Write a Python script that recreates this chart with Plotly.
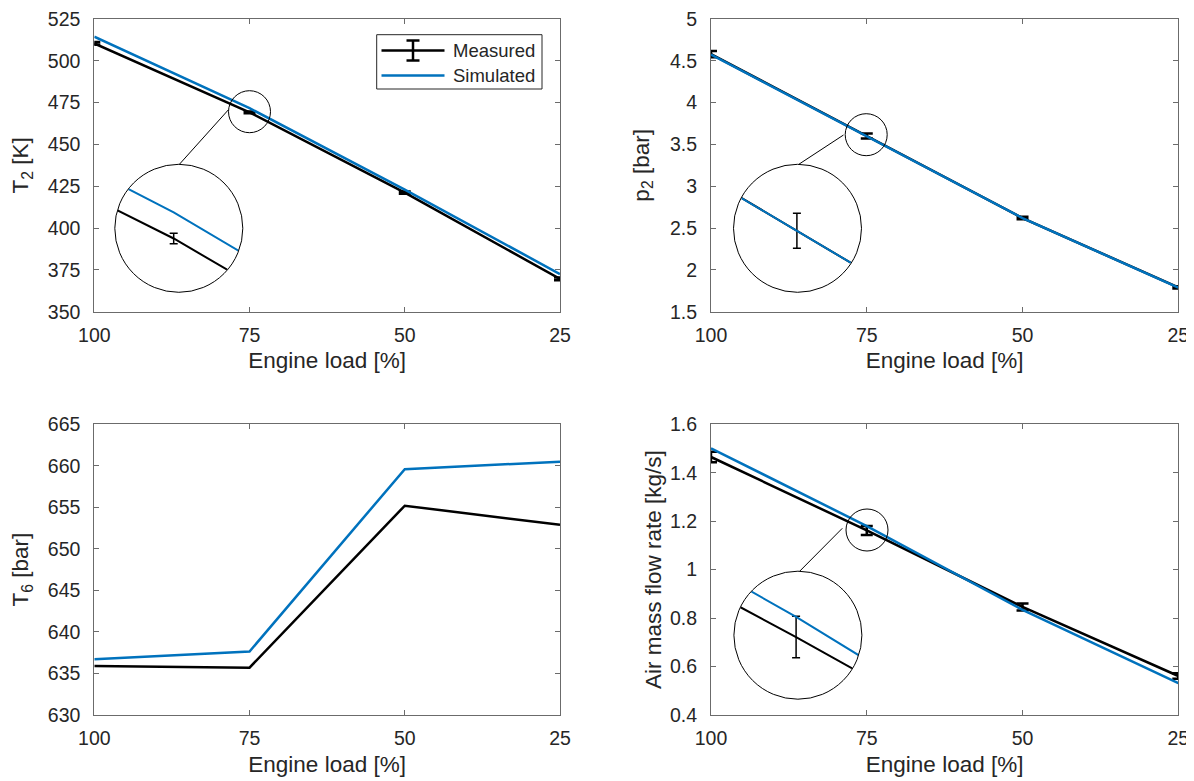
import plotly.graph_objects as go

W, H = 1194, 781          # browser window
OFF = 8                   # default page body margin
FW, FH = W - OFF, H - OFF # figure size so that it ends at the window edge
FONT = "Liberation Sans, Arial, Helvetica, sans-serif"
AX = "#6b6b6b"
TXT = "#262626"
BLACK = "#000000"
BLUE = "#0072BD"

# ---------------- data ----------------
load = [100, 75, 50, 25]
load_ticks = [100, 75, 50, 25]

t2_meas = [510.4, 469.2, 421.2, 369.6]
t2_err = [0.8, 0.5, 0.7, 0.8]
t2_sim = [514.4, 471.7, 423.0, 372.5]

p2_meas = [4.58, 3.60, 2.62, 1.79]
p2_err = [0.038, 0.03, 0.016, 0.014]
p2_sim = [4.575, 3.60, 2.62, 1.787]

t6_meas = [635.9, 635.7, 655.2, 652.9]
t6_sim = [636.7, 637.65, 659.6, 660.5]

m_meas = [1.465, 1.162, 0.846, 0.561]
m_err = [0.022, 0.0186, 0.0144, 0.011]
m_sim = [1.501, 1.180, 0.834, 0.532]

legend_names = ["Measured", "Simulated"]


def pxx(p):
    """window pixel x -> paper fraction"""
    return (p - OFF) / FW


def pxy(p):
    """window pixel y -> paper fraction"""
    return 1 - (p - OFF) / FH


fig = go.Figure()

# ---------------- main panels ----------------
panels = [
    ("x", "y", t2_meas, t2_err, t2_sim),
    ("x2", "y2", p2_meas, p2_err, p2_sim),
    ("x3", "y3", t6_meas, None, t6_sim),
    ("x4", "y4", m_meas, m_err, m_sim),
]
for xa, ya, meas, err, sim in panels:
    tr = dict(x=load, y=meas, mode="lines", name=legend_names[0],
              line=dict(color=BLACK, width=2.5), xaxis=xa, yaxis=ya,
              showlegend=False, cliponaxis=False)
    if err is not None:
        tr["error_y"] = dict(type="data", array=err, visible=True,
                             color=BLACK, thickness=2.5, width=6)
    fig.add_trace(go.Scatter(**tr))
    fig.add_trace(go.Scatter(x=load, y=sim, mode="lines", name=legend_names[1],
                             line=dict(color=BLUE, width=2.5), xaxis=xa, yaxis=ya,
                             showlegend=False, cliponaxis=False))

# ---------------- zoom insets ----------------
insets = [
    ("x5", "y5", t2_meas, t2_err, t2_sim),
    ("x6", "y6", p2_meas, p2_err, p2_sim),
    ("x7", "y7", m_meas, m_err, m_sim),
]
for xa, ya, meas, err, sim in insets:
    fig.add_trace(go.Scatter(x=load, y=meas, mode="lines", showlegend=False,
                             line=dict(color=BLACK, width=2), xaxis=xa, yaxis=ya,
                             error_y=dict(type="data", array=err, visible=True,
                                          color=BLACK, thickness=1.5, width=4)))
    fig.add_trace(go.Scatter(x=load, y=sim, mode="lines", showlegend=False,
                             line=dict(color=BLUE, width=2), xaxis=xa, yaxis=ya))


def base_axis(**kw):
    d = dict(showline=True, linecolor=AX, linewidth=1, mirror="ticks",
             ticks="inside", ticklen=5, tickcolor=AX, tickwidth=1,
             showgrid=False, zeroline=False, automargin=False,
             ticklabeloverflow="allow",
             tickfont=dict(size=19.5, color=TXT, family=FONT))
    d.update(kw)
    return d


def xaxis(dom, anchor):
    return base_axis(domain=dom, anchor=anchor, range=[100, 25],
                     tickvals=load_ticks, ticklabelstandoff=6,
                     title=dict(text="Engine load [%]", standoff=7,
                                font=dict(size=22.5, color=TXT, family=FONT)))


def yaxis(dom, anchor, rng, dtick, title, standoff=14):
    return base_axis(domain=dom, anchor=anchor, range=rng, dtick=dtick,
                     ticklabelstandoff=9,
                     title=dict(text=title, standoff=standoff,
                                font=dict(size=22.5, color=TXT, family=FONT)))


LX = [pxx(94.3), pxx(560)]
RX = [pxx(711), pxx(1178.3)]
TY = [pxy(311.7), pxy(19)]
BY = [pxy(715), pxy(424.3)]


def inset_axis(dom, rng):
    return dict(domain=dom, range=rng, visible=False, showgrid=False,
                zeroline=False, fixedrange=True, automargin=False)


R_BIG = 64
inset_geo = [
    ("xaxis5", "yaxis5", (178.8, 228.3), [76.717, 72.985], [464.03, 476.33]),
    ("xaxis6", "yaxis6", (797.5, 228.3), [76.647, 73.322], [3.4945, 3.7141]),
    ("xaxis7", "yaxis7", (797.9, 635.2), [77.458, 72.399], [1.1064, 1.2209]),
]

layout_axes = dict(
    xaxis=xaxis(LX, "y"),
    yaxis=yaxis(TY, "x", [350, 525], 25, "T<sub>2</sub> [K]"),
    xaxis2=xaxis(RX, "y2"),
    yaxis2=yaxis(TY, "x2", [1.5, 5], 0.5, "p<sub>2</sub> [bar]"),
    xaxis3=xaxis(LX, "y3"),
    yaxis3=yaxis(BY, "x3", [630, 665], 5, "T<sub>6</sub> [bar]"),
    xaxis4=xaxis(RX, "y4"),
    yaxis4=yaxis(BY, "x4", [0.4, 1.6], 0.2, "Air mass flow rate [kg/s]", standoff=2),
)
for xk, yk, (cx, cy), xr, yr in inset_geo:
    n = xk[5:]
    layout_axes[xk] = inset_axis([pxx(cx - R_BIG), pxx(cx + R_BIG)], xr)
    layout_axes[xk]["anchor"] = "y" + n
    layout_axes[yk] = inset_axis([pxy(cy + R_BIG), pxy(cy - R_BIG)], yr)
    layout_axes[yk]["anchor"] = "x" + n


def ellipse_path(cx, cy, rx, ry):
    k = 0.5523
    return (f"M{cx + rx},{cy} "
            f"C{cx + rx},{cy + k * ry} {cx + k * rx},{cy + ry} {cx},{cy + ry} "
            f"C{cx - k * rx},{cy + ry} {cx - rx},{cy + k * ry} {cx - rx},{cy} "
            f"C{cx - rx},{cy - k * ry} {cx - k * rx},{cy - ry} {cx},{cy - ry} "
            f"C{cx + k * rx},{cy - ry} {cx + rx},{cy - k * ry} {cx + rx},{cy} Z")


shapes = []
zoom_geo = [
    ((249.5, 111.7), (178.8, 228.3), (228.2, 110.0), (179.4, 164.3)),
    ((866.2, 134.7), (797.5, 228.3), (843.5, 135.0), (798.8, 164.3)),
    ((867.0, 530.0), (797.9, 635.2), (842.3, 528.3), (799.9, 571.0)),
]
R_SMALL = 21
for (sx, sy), (bx, by), (l0x, l0y), (l1x, l1y) in zoom_geo:
    pad = 4
    rect = (f"M{pxx(bx - R_BIG - pad)},{pxy(by - R_BIG - pad)} "
            f"L{pxx(bx + R_BIG + pad)},{pxy(by - R_BIG - pad)} "
            f"L{pxx(bx + R_BIG + pad)},{pxy(by + R_BIG + pad)} "
            f"L{pxx(bx - R_BIG - pad)},{pxy(by + R_BIG + pad)} Z ")
    hole = ellipse_path(pxx(bx), pxy(by), (R_BIG - 0.5) / FW, (R_BIG - 0.5) / FH)
    shapes.append(dict(type="path", path=rect + hole, xref="paper", yref="paper",
                       fillcolor="white", fillrule="evenodd",
                       line=dict(width=0), layer="above"))
    shapes.append(dict(type="circle", xref="paper", yref="paper",
                       x0=pxx(bx - R_BIG), x1=pxx(bx + R_BIG),
                       y0=pxy(by + R_BIG), y1=pxy(by - R_BIG),
                       line=dict(color=BLACK, width=1), layer="above"))
    shapes.append(dict(type="circle", xref="paper", yref="paper",
                       x0=pxx(sx - R_SMALL), x1=pxx(sx + R_SMALL),
                       y0=pxy(sy + R_SMALL), y1=pxy(sy - R_SMALL),
                       line=dict(color=BLACK, width=1), layer="above"))
    shapes.append(dict(type="line", xref="paper", yref="paper",
                       x0=pxx(l0x), y0=pxy(l0y), x1=pxx(l1x), y1=pxy(l1y),
                       line=dict(color=BLACK, width=1), layer="above"))

# ---------------- legend (top-left panel) ----------------
LG_L, LG_R, LG_T, LG_B = 376.7, 542.0, 34.7, 89.0
ROW1, ROW2 = 50.5, 75.5
SYM0, SYM1 = 381.5, 444.5
annotations = []
shapes.append(dict(type="rect", xref="paper", yref="paper",
                   x0=pxx(LG_L), x1=pxx(LG_R), y0=pxy(LG_B), y1=pxy(LG_T),
                   fillcolor="white", line=dict(color="#262626", width=1),
                   layer="above"))
for row, color in [(ROW1, BLACK), (ROW2, BLUE)]:
    shapes.append(dict(type="line", xref="paper", yref="paper",
                       x0=pxx(SYM0), x1=pxx(SYM1), y0=pxy(row), y1=pxy(row),
                       line=dict(color=color, width=2.5), layer="above"))
mid = (SYM0 + SYM1) / 2
shapes.append(dict(type="line", xref="paper", yref="paper",
                   x0=pxx(mid), x1=pxx(mid), y0=pxy(ROW1 - 10), y1=pxy(ROW1 + 10),
                   line=dict(color=BLACK, width=2.5), layer="above"))
for yy in (ROW1 - 10, ROW1 + 10):
    shapes.append(dict(type="line", xref="paper", yref="paper",
                       x0=pxx(mid - 6.5), x1=pxx(mid + 6.5), y0=pxy(yy), y1=pxy(yy),
                       line=dict(color=BLACK, width=2.5), layer="above"))
for row, name in [(ROW1, legend_names[0]), (ROW2, legend_names[1])]:
    annotations.append(dict(text=name, xref="paper", yref="paper",
                            x=pxx(451.0), y=pxy(row), xanchor="left",
                            yanchor="middle", showarrow=False,
                            font=dict(size=18.5, color=TXT, family=FONT)))

fig.update_layout(
    width=FW, height=FH,
    margin=dict(l=0, r=0, t=0, b=0, pad=0, autoexpand=False),
    paper_bgcolor="white", plot_bgcolor="rgba(0,0,0,0)",
    font=dict(family=FONT, color=TXT, size=19),
    shapes=shapes, annotations=annotations,
    showlegend=False,
    **layout_axes,
)

fig.write_html("out.html")
